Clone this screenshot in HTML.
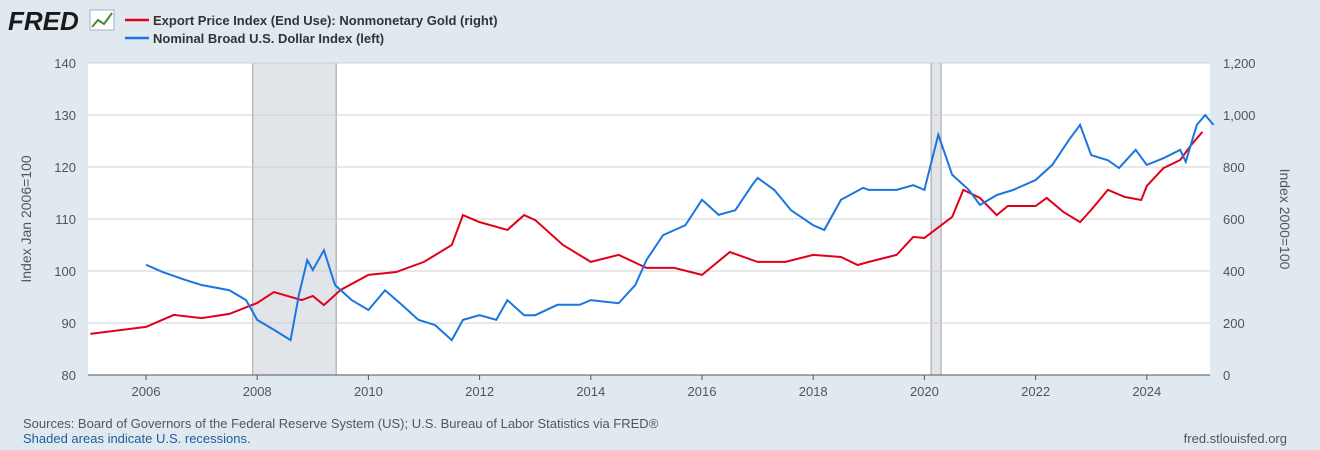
<!DOCTYPE html>
<html><head><meta charset="utf-8">
<style>
body{margin:0;width:1320px;height:450px;background:#e1e9f0;font-family:"Liberation Sans",sans-serif;overflow:hidden}
svg{display:block}
</style></head>
<body>
<svg id="chart" width="1320" height="450">
  <g>
    <text x="8" y="30" font-size="26" font-weight="bold" fill="#1a1a1a" font-style="italic">FRED</text>
    <rect x="90" y="10" width="24" height="20" fill="#ffffff" stroke="#9fb3c8"/>
    <polyline points="92,27 98,20 104,24 112,13" fill="none" stroke="#4a8a3a" stroke-width="2"/>
  </g>
  <g>
    <line x1="125" y1="20" x2="149" y2="20" stroke="#e1001a" stroke-width="2.5"/>
    <text x="153" y="25" font-size="13" font-weight="bold" fill="#333">Export Price Index (End Use): Nonmonetary Gold (right)</text>
    <line x1="125" y1="38" x2="149" y2="38" stroke="#1976e0" stroke-width="2.5"/>
    <text x="153" y="43" font-size="13" font-weight="bold" fill="#333">Nominal Broad U.S. Dollar Index (left)</text>
  </g>
  <rect x="88" y="63" width="1122" height="312" fill="#ffffff"/>
  <g id="recessions"></g>
  <g id="grid"></g>
  <g id="series"></g>
  <g id="axes"></g>
  <text transform="translate(31,219) rotate(-90)" text-anchor="middle" font-size="14" fill="#555">Index Jan 2006=100</text>
  <text transform="translate(1280,219) rotate(90)" text-anchor="middle" font-size="14" fill="#555">Index 2000=100</text>
  <text x="23" y="428" font-size="13" fill="#555">Sources: Board of Governors of the Federal Reserve System (US); U.S. Bureau of Labor Statistics via FRED®</text>
  <text x="23" y="443" font-size="13" fill="#1d5d9b">Shaded areas indicate U.S. recessions.</text>
  <text x="1287" y="443" text-anchor="end" font-size="13" fill="#555">fred.stlouisfed.org</text>
</svg>
<script>
const leftTicks=[80,90,100,110,120,130,140];
const rightTickLabels=["0","200","400","600","800","1,000","1,200"];
const rightTicks=[0,200,400,600,800,1000,1200];
const xTicks=[2006,2008,2010,2012,2014,2016,2018,2020,2022,2024];
const recessionStarts=[2007.92,2020.12];
const recessionEnds=[2009.42,2020.3];
const goldDates=[2005.0,2006.0,2006.5,2007.0,2007.5,2008.0,2008.3,2008.8,2009.0,2009.2,2009.5,2010.0,2010.5,2011.0,2011.5,2011.7,2012.0,2012.5,2012.8,2013.0,2013.5,2014.0,2014.5,2015.0,2015.5,2016.0,2016.5,2017.0,2017.5,2018.0,2018.5,2018.8,2019.0,2019.5,2019.8,2020.0,2020.5,2020.7,2021.0,2021.3,2021.5,2022.0,2022.2,2022.5,2022.8,2023.0,2023.3,2023.6,2023.9,2024.0,2024.3,2024.6,2024.8,2025.0];
const goldValues=[158,185,231,219,235,277,319,288,304,269,327,385,396,435,500,615,588,558,615,596,500,435,462,412,412,385,473,435,435,462,454,423,435,462,531,527,608,712,681,615,650,650,681,627,588,635,712,685,673,727,796,827,885,935];
const dollarDates=[2006.0,2006.3,2006.7,2007.0,2007.5,2007.8,2008.0,2008.3,2008.6,2008.75,2008.9,2009.0,2009.2,2009.4,2009.7,2010.0,2010.3,2010.6,2010.9,2011.2,2011.5,2011.7,2012.0,2012.3,2012.5,2012.8,2013.0,2013.4,2013.8,2014.0,2014.5,2014.8,2015.0,2015.3,2015.7,2016.0,2016.3,2016.6,2016.9,2017.0,2017.3,2017.6,2018.0,2018.2,2018.5,2018.9,2019.0,2019.5,2019.8,2020.0,2020.25,2020.5,2020.8,2021.0,2021.3,2021.6,2022.0,2022.3,2022.6,2022.8,2023.0,2023.3,2023.5,2023.8,2024.0,2024.3,2024.6,2024.7,2024.9,2025.05,2025.2];
const dollarValues=[101.2,99.8,98.3,97.3,96.3,94.4,90.6,88.7,86.7,95.4,102.1,100.2,104,97.3,94.4,92.5,96.3,93.5,90.6,89.6,86.7,90.6,91.5,90.6,94.4,91.5,91.5,93.5,93.5,94.4,93.8,97.3,102.1,106.9,108.8,113.7,110.8,111.7,116.5,117.9,115.6,111.7,108.8,107.9,113.7,116,115.6,115.6,116.5,115.6,126.2,118.5,115.6,112.7,114.6,115.6,117.5,120.4,125.2,128.1,122.3,121.3,119.8,123.3,120.4,121.7,123.3,121,128.1,130,128.1];

const NS="http://www.w3.org/2000/svg";
const X0=88,X1=1210,Y0=63,Y1=375;
const xs=d=>146+(d-2006)*55.6;
const yl=v=>Y1-(v-80)/60*(Y1-Y0);
const yr=v=>Y1-v/1200*(Y1-Y0);
function mk(tag,attrs,parent){const e=document.createElementNS(NS,tag);for(const k in attrs)e.setAttribute(k,attrs[k]);parent.appendChild(e);return e;}
const rec=document.getElementById('recessions');
recessionStarts.forEach((s,i)=>{
  const r=mk('rect',{x:xs(s),y:Y0,width:xs(recessionEnds[i])-xs(s),height:Y1-Y0,fill:'#e1e5ea',stroke:'#888','stroke-width':0.8},rec);
  
  
});
const grid=document.getElementById('grid');
const axes=document.getElementById('axes');
leftTicks.forEach((t,i)=>{
  const y=yl(t);
  const l=mk('line',{x1:X0,x2:X1,y1:y,y2:y,stroke:'#d0d0d0','stroke-width':1},grid);
  
  
  const tx=mk('text',{x:76,y:y+5,'text-anchor':'end','font-size':13,fill:'#555'},axes);
  tx.textContent=t;
  
  
});
rightTicks.forEach((t,i)=>{
  const y=yr(t);
  const tx=mk('text',{x:1223,y:y+5,'text-anchor':'start','font-size':13,fill:'#555'},axes);
  tx.textContent=rightTickLabels[i];
  
  
});
xTicks.forEach(t=>{
  const x=xs(t);
  const l=mk('line',{x1:x,x2:x,y1:Y1,y2:Y1+5,stroke:'#555'},axes);
  
  
  const tx=mk('text',{x:x,y:396,'text-anchor':'middle','font-size':13,fill:'#555'},axes);
  tx.textContent=t;
  
  
});
const ax=mk('line',{x1:X0,x2:X1,y1:Y1,y2:Y1,stroke:'#555'},axes);


const ser=document.getElementById('series');
const gp=mk('polyline',{points:goldDates.map((d,i)=>xs(d)+','+yr(goldValues[i])).join(' '),fill:'none',stroke:'#e1001a','stroke-width':2},ser);


const dp=mk('polyline',{points:dollarDates.map((d,i)=>xs(d)+','+yl(dollarValues[i])).join(' '),fill:'none',stroke:'#1976e0','stroke-width':2},ser);


</script>
</body></html>
